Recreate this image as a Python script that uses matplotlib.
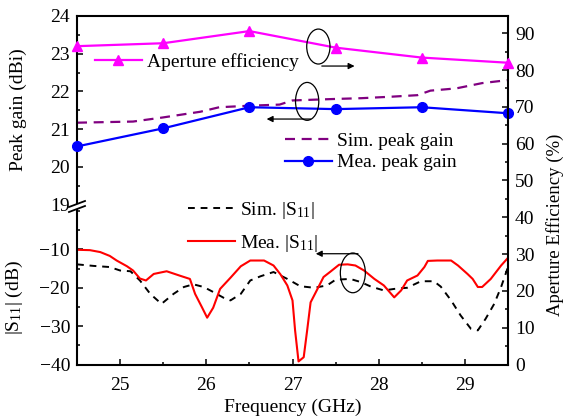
import matplotlib
matplotlib.use("Agg")
import matplotlib.pyplot as plt
from matplotlib.lines import Line2D
from matplotlib.patches import Ellipse, Polygon
from matplotlib.ticker import MultipleLocator

plt.rcParams['font.family'] = ['Liberation Serif', 'DejaVu Serif']
plt.rcParams['mathtext.fontset'] = 'custom'
plt.rcParams['mathtext.rm'] = 'Liberation Serif'
plt.rcParams['mathtext.it'] = 'Liberation Serif:italic'
plt.rcParams['font.size'] = 14

# ---------------- data ----------------
freq_pts = [24.5, 25.5, 26.5, 27.5, 28.5, 29.5]
mea_gain = [20.54, 21.02, 21.58, 21.53, 21.58, 21.42]
aperture_eff = [86.5, 87.3, 90.6, 86.1, 83.4, 82.0]

sim_gain_f = [24.5, 25.15, 25.5, 25.93, 26.15, 26.5, 26.85, 27.0, 27.5, 27.8,
              28.15, 28.45, 28.6, 28.9, 29.2, 29.5]
sim_gain = [21.17, 21.2, 21.31, 21.46, 21.58, 21.62, 21.65, 21.76, 21.8, 21.82,
            21.86, 21.9, 22.02, 22.08, 22.22, 22.3]

mea_s11_f = [24.5, 24.65, 24.77, 24.88, 24.96, 25.08, 25.15, 25.23, 25.3, 25.39,
             25.54, 25.7, 25.81, 25.87, 25.95, 26.01, 26.08, 26.16, 26.28, 26.4,
             26.51, 26.67, 26.78, 26.86, 26.94, 27.0, 27.03, 27.07, 27.13, 27.17,
             27.21, 27.29, 27.36, 27.44, 27.54, 27.64, 27.73, 27.83, 27.95, 28.06,
             28.18, 28.26, 28.33, 28.45, 28.53, 28.57, 28.68, 28.84, 28.92, 29.03,
             29.09, 29.15, 29.2, 29.3, 29.42, 29.5]
mea_s11 = [-10.1, -10.2, -10.7, -11.7, -12.9, -14.4, -15.5, -17.6, -18.1, -16.4,
           -15.7, -16.9, -17.7, -21.6, -25.1, -27.8, -25.2, -20.3, -17.4, -14.4,
           -12.9, -12.9, -14.2, -16.5, -19.4, -23.3, -31.1, -39.2, -38.1, -31.1,
           -23.8, -20.3, -17.2, -15.8, -14.0, -13.9, -14.2, -15.5, -17.7, -19.4,
           -22.5, -20.7, -18.1, -16.8, -14.6, -13.0, -12.9, -12.9, -14.2, -16.4,
           -17.7, -19.8, -19.8, -17.7, -14.2, -12.2]

sim_s11_f = [24.5, 24.69, 24.88, 25.0, 25.12, 25.23, 25.35, 25.48, 25.62, 25.74,
             25.85, 25.97, 26.08, 26.2, 26.28, 26.4, 26.51, 26.63, 26.78, 26.94,
             27.09, 27.25, 27.4, 27.5, 27.67, 27.79, 27.91, 28.06, 28.18, 28.33,
             28.49, 28.64, 28.72, 28.84, 28.95, 29.07, 29.15, 29.24, 29.34, 29.42,
             29.5]
sim_s11 = [-13.9, -14.3, -14.6, -15.5, -15.7, -18.1, -21.6, -24.2, -21.6, -19.8,
           -19.1, -19.8, -21.1, -22.6, -23.3, -21.6, -18.1, -17.0, -15.9, -17.7,
           -19.6, -20.0, -19.4, -17.9, -17.7, -18.5, -19.7, -20.7, -20.3, -20.0,
           -18.3, -18.3, -19.7, -23.3, -27.2, -30.7, -31.1, -28.1, -24.2, -19.8,
           -14.6]

x_ticks = [25, 26, 27, 28, 29]

# ---------------- layout (pixel geometry) ----------------
W, H = 572, 417
L, R, T, B, BRK = 77, 508, 16, 364.5, 204.5
fig = plt.figure(figsize=(W / 100, H / 100), dpi=100)

def fx(px):
    return px / W

def fy(py):
    return 1 - py / H

ax_top = fig.add_axes([fx(L), fy(BRK), fx(R) - fx(L), fy(T) - fy(BRK)])
ax_bot = fig.add_axes([fx(L), fy(B), fx(R) - fx(L), fy(BRK) - fy(B)], sharex=ax_top)
ax_eff = fig.add_axes([fx(L), fy(B), fx(R) - fx(L), fy(T) - fy(B)], sharex=ax_top)
ax_eff.patch.set_visible(False)

lw_sp = 1.5
for ax in (ax_top, ax_bot, ax_eff):
    for s in ax.spines.values():
        s.set_linewidth(lw_sp)

ax_top.spines['bottom'].set_visible(False)
ax_top.spines['right'].set_visible(False)
ax_bot.spines['top'].set_visible(False)
ax_bot.spines['right'].set_visible(False)
for k in ('left', 'top', 'bottom'):
    ax_eff.spines[k].set_visible(False)

ax_top.set_xlim(24.5, 29.5)
ax_top.set_ylim(19, 24)
ax_bot.set_ylim(-40, 1.7)
ax_eff.set_ylim(0, 94.7)

tick_kw = dict(direction='in', length=4.5, width=1.1, pad=5)
mtick_kw = dict(direction='in', length=2.5, width=1.1)

ax_top.yaxis.set_major_locator(MultipleLocator(1))
ax_top.yaxis.set_minor_locator(MultipleLocator(0.5))
ax_top.tick_params(axis='y', which='major', left=True, right=False, **tick_kw)
ax_top.tick_params(axis='y', which='minor', left=True, right=False, **mtick_kw)
ax_top.tick_params(axis='x', which='both', bottom=False, top=False, labelbottom=False)

ax_bot.set_yticks([-40, -30, -20, -10])
ax_bot.yaxis.set_minor_locator(MultipleLocator(5))
ax_bot.tick_params(axis='y', which='major', left=True, right=False, **tick_kw)
ax_bot.tick_params(axis='y', which='minor', left=True, right=False, **mtick_kw)
ax_bot.set_xticks(x_ticks)
ax_bot.xaxis.set_minor_locator(MultipleLocator(0.5))
ax_bot.tick_params(axis='x', which='major', bottom=True, top=False,
                   direction='in', length=4.5, width=1.1, pad=9)
ax_bot.tick_params(axis='x', which='minor', bottom=True, top=False, **mtick_kw)

ax_eff.yaxis.tick_right()
ax_eff.yaxis.set_label_position('right')
ax_eff.set_yticks(range(0, 91, 10))
ax_eff.yaxis.set_minor_locator(MultipleLocator(5))
ax_eff.tick_params(axis='y', which='major', right=True, left=False, **tick_kw)
ax_eff.tick_params(axis='y', which='minor', right=True, left=False, **mtick_kw)
ax_eff.tick_params(axis='x', which='both', bottom=False, top=False, labelbottom=False)

# ---------------- data series ----------------
ln_sim_gain, = ax_top.plot(sim_gain_f, sim_gain, color='#800080', lw=1.6,
                           linestyle=(0, (4.5, 3)), label='Sim. peak gain')
ln_mea_gain, = ax_top.plot(freq_pts, mea_gain, color='#0000FF', lw=1.6,
                           marker='o', markersize=7, label='Mea. peak gain',
                           clip_on=False, zorder=5)

ln_sim_s11, = ax_bot.plot(sim_s11_f, sim_s11, color='black', lw=1.4,
                          linestyle=(0, (3.5, 3)), label=r'Sim. |S$_{\mathregular{11}}$|')
ln_mea_s11, = ax_bot.plot(mea_s11_f, mea_s11, color='#FF0000', lw=1.5,
                          label=r'Mea. |S$_{\mathregular{11}}$|')

ln_eff, = ax_eff.plot(freq_pts, aperture_eff, color='#FF00FF', lw=1.6,
                      marker='^', markersize=6.5, label='Aperture efficiency',
                      clip_on=False, zorder=5)

# ---------------- labels ----------------
ax_bot.set_xlabel('Frequency (GHz)')
ax_bot.xaxis.set_label_coords(fx(292.5), fy(407), transform=fig.transFigure)
ax_top.set_ylabel('Peak gain (dBi)')
ax_top.yaxis.set_label_coords(fx(27), fy(110), transform=fig.transFigure)
ax_bot.set_ylabel(r'|S$_{\mathregular{11}}$| (dB)')
ax_bot.yaxis.set_label_coords(fx(25), fy(298), transform=fig.transFigure)
ax_eff.set_ylabel('Aperture Efficiency (%)', fontsize=13.5)
ax_eff.yaxis.set_label_coords(fx(555), fy(225), transform=fig.transFigure)
ax_eff.yaxis.label.set_rotation(90)
ax_eff.yaxis.label.set_va('center')
ax_bot.xaxis.label.set_va('center')

# ---------------- legends ----------------
leg_kw = dict(frameon=False, borderpad=0, borderaxespad=0, handlelength=2.4,
              handletextpad=0.25, fontsize=14, loc='upper left',
              bbox_transform=fig.transFigure)
ax_eff.legend(handles=[ln_eff], bbox_to_anchor=(fx(95), fy(53)), **leg_kw)
ax_top.legend(handles=[ln_sim_gain, ln_mea_gain], labelspacing=0.22,
              bbox_to_anchor=(fx(285), fy(132)), **leg_kw)
ax_bot.legend(handles=[ln_sim_s11, ln_mea_s11], labelspacing=0.6,
              bbox_to_anchor=(fx(188), fy(200)), **leg_kw)

# ---------------- annotations (ellipses + arrows) ----------------
def ell(cx, cy, w, h):
    ax_eff.add_patch(Ellipse((cx, cy), w, h, fill=False, edgecolor='black',
                             lw=0.9, zorder=6))

def arr(x0, y0, x1, y1):
    ax_eff.annotate('', xy=(x1, y1), xytext=(x0, y0),
                    arrowprops=dict(arrowstyle='-|>', color='black', lw=0.9,
                                    mutation_scale=9, shrinkA=0, shrinkB=0),
                    zorder=6)

ell(27.30, 86.4, 0.27, 9.5)
arr(27.34, 81.1, 27.72, 81.1)
ell(27.17, 71.5, 0.27, 10.3)
arr(27.21, 66.7, 26.70, 66.7)
ell(27.70, 24.9, 0.29, 10.8)
arr(27.76, 30.1, 27.27, 30.1)

# ---------------- axis break marks ----------------
cx0, cy0 = L, 206
fig.add_artist(Polygon([(fx(cx0 - 8), fy(cy0 + 1)), (fx(cx0 + 8), fy(cy0 - 5)),
                        (fx(cx0 + 8), fy(cy0)), (fx(cx0 - 8), fy(cy0 + 6))],
                       closed=True, facecolor='white', edgecolor='none',
                       transform=fig.transFigure, zorder=10))
for dy in (0, 5):
    fig.add_artist(Line2D([fx(cx0 - 8), fx(cx0 + 8)],
                          [fy(cy0 + 3.5 + dy - 2.5), fy(cy0 - 2.5 + dy - 2.5)],
                          color='black', lw=1.3, transform=fig.transFigure,
                          zorder=11))

fig.savefig('out.png', dpi=100)
